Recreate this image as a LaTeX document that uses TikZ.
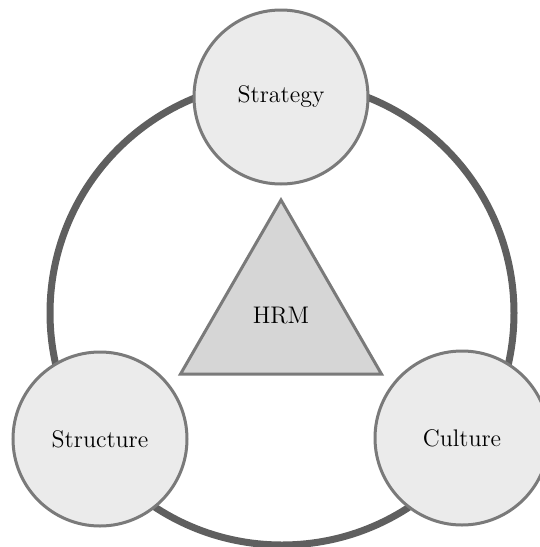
\documentclass[tikz,border=0pt]{standalone}
\usepackage{tikz}
\usetikzlibrary{shapes.geometric}

\definecolor{ringgray}{HTML}{5F5F5F}
\definecolor{edgegray}{HTML}{7A7A7A}
\definecolor{circfill}{HTML}{EBEBEB}
\definecolor{trifill}{HTML}{D6D6D6}

\begin{document}
\begin{tikzpicture}[x=0.5pt,y=-0.5pt,
  main node/.style={circle,fill=circfill,draw=edgegray,line width=1.5pt,minimum size=87pt,inner sep=0pt,font=\large},
  core node/.style={regular polygon,regular polygon sides=3,fill=trifill,draw=edgegray,line width=1.5pt,minimum size=116pt,inner sep=0pt,font=\large}]
  \useasboundingbox (0,0) rectangle (540,547);
  \draw[ringgray,line width=3.5pt] (282,313) circle (116pt);
  \node[core node] (1) at (281,316) {HRM};
  \node[main node] (2) at (281,97) {Strategy};
  \node[main node] (3) at (100,439) {Structure};
  \node[main node] (4) at (462,438) {Culture};
\end{tikzpicture}
\end{document}
